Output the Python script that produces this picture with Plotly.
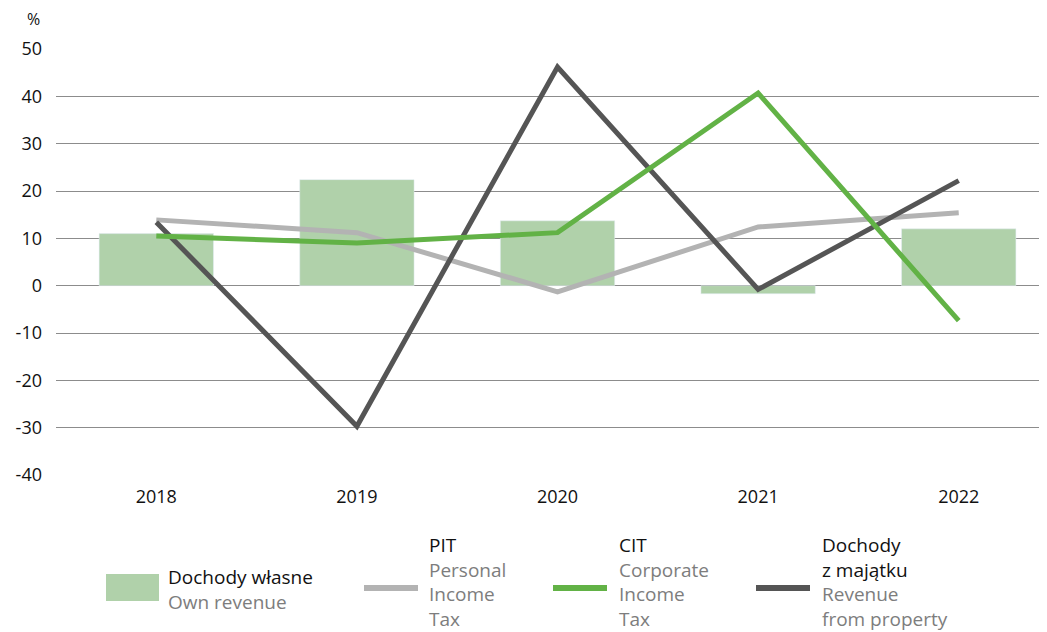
import plotly.graph_objects as go

years = ["2018", "2019", "2020", "2021", "2022"]
own_revenue = [11.0, 22.4, 13.7, -1.7, 12.0]
pit = [13.9, 11.2, -1.3, 12.4, 15.4]
cit = [10.5, 9.0, 11.2, 40.7, -7.4]
property_rev = [13.4, -29.7, 46.2, -0.8, 22.2]
y_ticks = [50, 40, 30, 20, 10, 0, -10, -20, -30, -40]
y_tick_text = ["50", "40", "30", "20", "10", "0", "-10", "-20", "-30", "-40"]

C_BAR = "#b0d1aa"
C_PIT = "#b3b3b3"
C_CIT = "#62b246"
C_PROP = "#555555"
C_SUB = "#7d7d7d"
FONT = "Open Sans"

OFF = 8  # page body margin
W, H = 1047 - OFF, 632 - OFF
L, R, T, B = 56 - OFF, 0, 49 - OFF, 157
PW = W - L - R
PH = H - T - B


def px(x):
    return (x - OFF - L) / PW


def py(y):
    return (H - B - (y - OFF)) / PH


fig = go.Figure()
fig.add_trace(go.Bar(x=years, y=own_revenue, marker_color=C_BAR, width=0.57,
                     name="Dochody własne"))
fig.add_trace(go.Scatter(x=years, y=pit, mode="lines",
                         line=dict(color=C_PIT, width=5), name="PIT"))
fig.add_trace(go.Scatter(x=years, y=property_rev, mode="lines",
                         line=dict(color=C_PROP, width=5), name="Dochody z majątku"))
fig.add_trace(go.Scatter(x=years, y=cit, mode="lines",
                         line=dict(color=C_CIT, width=5), name="CIT"))

fig.update_layout(
    width=W, height=H,
    margin=dict(l=L, r=R, t=T, b=B),
    paper_bgcolor="white", plot_bgcolor="white",
    showlegend=False,
    font=dict(family=FONT, size=18, color="#111111"),
    xaxis=dict(range=[-0.5, 4.44], showgrid=False, zeroline=False,
               showline=False, ticks="", tickfont=dict(size=18),
               ticklabelstandoff=9),
    yaxis=dict(range=[-40, 50], tickvals=y_ticks, ticktext=y_tick_text,
               showgrid=True, gridcolor="#8c8c8c", gridwidth=1, zeroline=True,
               zerolinecolor="#8c8c8c", zerolinewidth=1, ticks="",
               tickfont=dict(size=18), ticklabelstandoff=13),
)

annotations = []
shapes = []
LEG = 19


def block(x, y_center, main_lines, sub_lines):
    parts = list(main_lines) + [
        "<span style='color:%s'>%s</span>" % (C_SUB, s) for s in sub_lines]
    annotations.append(dict(x=px(x), y=py(y_center), xref="paper", yref="paper",
                            text="<br>".join(parts), showarrow=False,
                            xanchor="left", yanchor="middle", align="left",
                            borderpad=0,
                            font=dict(family=FONT, size=LEG, color="#111111")))


annotations.append(dict(x=px(33), y=py(19), xref="paper", yref="paper", text="%",
                        showarrow=False, xanchor="center", yanchor="middle",
                        borderpad=0,
                        font=dict(family=FONT, size=16, color="#111111")))

# legend
shapes.append(dict(type="rect", xref="paper", yref="paper", x0=px(106), x1=px(159),
                   y0=py(601), y1=py(574), fillcolor=C_BAR, line=dict(width=0)))
block(167, 589, ["Dochody własne"], ["Own revenue"])

for x0, col in [(364, C_PIT), (553, C_CIT), (756, C_PROP)]:
    shapes.append(dict(type="line", xref="paper", yref="paper", x0=px(x0), x1=px(x0 + 54),
                       y0=py(588), y1=py(588), line=dict(color=col, width=6)))

block(428, 581.5, ["PIT"], ["Personal", "Income", "Tax"])
block(618, 581.5, ["CIT"], ["Corporate", "Income", "Tax"])
block(821, 581.5, ["Dochody", "z majątku"], ["Revenue", "from property"])

fig.update_layout(annotations=annotations, shapes=shapes)
fig.write_html("out.html")
